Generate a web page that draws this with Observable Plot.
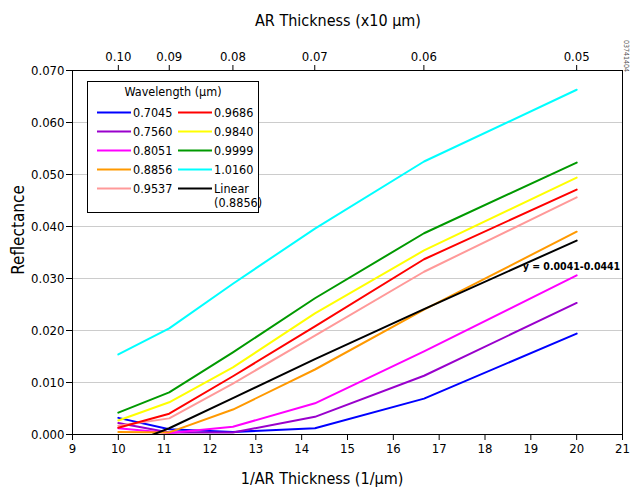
<!DOCTYPE html>
<html><head><meta charset="utf-8">
<script src="https://cdn.jsdelivr.net/npm/d3@7"></script>
<script src="https://cdn.jsdelivr.net/npm/@observablehq/plot@0.6"></script>
<style>body{margin:0;background:#fff} #chart{width:634px;height:493px} svg text{font-stretch:condensed}</style>
</head><body><div id="chart"></div>
<script>
const FONT = "'DejaVu Sans Condensed','DejaVu Sans',sans-serif";
// x positions (1/AR thickness, 1/µm)
const xValues = [10, 11.11, 12.5, 14.29, 16.67, 20];
const wavelengths = ["0.7045","0.7560","0.8051","0.8856","0.9537","0.9686","0.9840","0.9999","1.0160"];
const colors = ["#0000ff","#9900cc","#ff00ff","#ff9900","#ff9999","#ff0000","#ffff00","#009900","#00ffff"];
const r07045 = [0.0032, 0.0010, 0.0005, 0.0012, 0.0069, 0.0194];
const r07560 = [0.0022, 0.0004, 0.0004, 0.0034, 0.0113, 0.0253];
const r08051 = [0.0012, 0.0003, 0.0015, 0.0060, 0.0160, 0.0306];
const r08856 = [0.0005, 0.0004, 0.0048, 0.0125, 0.0240, 0.0390];
const r09537 = [0.0017, 0.0031, 0.0098, 0.0190, 0.0313, 0.0456];
const r09686 = [0.0013, 0.0040, 0.0112, 0.0208, 0.0337, 0.0471];
const r09840 = [0.0027, 0.0062, 0.0129, 0.0233, 0.0354, 0.0494];
const r09999 = [0.0042, 0.0081, 0.0158, 0.0262, 0.0387, 0.0523];
const r10160 = [0.0154, 0.0204, 0.0290, 0.0396, 0.0525, 0.0663];
const series = [r07045, r07560, r08051, r08856, r09537, r09686, r09840, r09999, r10160];
// linear fit line (0.8856)
const linearX = [10.7, 11.11, 12.5, 14.29, 16.67, 20];
const linearY = [-0.0002, 0.0012, 0.0070, 0.0145, 0.0241, 0.0373];
const fitLabel = "y = 0.0041-0.0441";
// ticks
const bottomTicks = [9,10,11,12,13,14,15,16,17,18,19,20,21];
const yTicks = [0,0.01,0.02,0.03,0.04,0.05,0.06,0.07];
const topTickValues = [0.10, 0.09, 0.08, 0.07, 0.06, 0.05];
const topTickLabels = ["0.10","0.09","0.08","0.07","0.06","0.05"];

const rows = [];
series.forEach((s, i) => s.forEach((v, j) => rows.push({x: xValues[j], y: v, w: wavelengths[i]})));
const linRows = linearX.map((x, i) => ({x, y: linearY[i]}));

const plot = Plot.plot({
  width: 634, height: 493,
  marginLeft: 72, marginRight: 12, marginTop: 70, marginBottom: 59,
  style: {fontFamily: FONT, fontSize: "13px", color: "#000", background: "#fff"},
  x: {domain: [9, 21]},
  y: {domain: [0, 0.07]},
  color: {domain: wavelengths, range: colors},
  marks: [
    Plot.gridY({ticks: yTicks, stroke: "#cccccc", strokeOpacity: 1, strokeWidth: 1}),
    Plot.line(rows, {x: "x", y: "y", z: "w", stroke: "w", strokeWidth: 2, clip: true}),
    Plot.line(linRows, {x: "x", y: "y", stroke: "#000", strokeWidth: 2, clip: true}),
    Plot.text([fitLabel], {x: 20.95, y: 0.0323, text: d => d, textAnchor: "end", fontWeight: "bold", fontSize: 10.5}),
    Plot.frame({stroke: "#000", strokeWidth: 1}),
    Plot.axisX({ticks: bottomTicks, tickFormat: d => d, tickSize: 6, tickPadding: 3, label: null, fontSize: 13}),
    Plot.axisY({ticks: yTicks, tickFormat: d3.format(".3f"), tickSize: 6, tickPadding: 2, label: null, fontSize: 13}),
    Plot.axisX({anchor: "top", ticks: topTickValues.map(v => 1 / v), tickFormat: (d, i) => topTickLabels[i], tickSize: 6, tickPadding: 4, label: null, fontSize: 13})
  ]
});
document.getElementById("chart").appendChild(plot);

const svg = d3.select(plot);
svg.append("text").attr("x", 338).attr("y", 26).attr("text-anchor", "middle")
  .attr("font-size", 16).attr("font-family", FONT).text("AR Thickness (x10 µm)");
svg.append("text").attr("x", 322).attr("y", 484).attr("text-anchor", "middle")
  .attr("font-size", 16).attr("font-family", FONT).text("1/AR Thickness (1/µm)");
svg.append("text").attr("transform", "translate(24,230) rotate(-90)").attr("text-anchor", "middle")
  .attr("font-size", 17).attr("font-family", FONT).text("Reflectance");
svg.append("text").attr("transform", "translate(624,40) rotate(90)").attr("text-anchor", "start")
  .attr("font-size", 7).attr("fill", "#555").attr("font-family", FONT).text("03741404");

// legend
const lg = svg.append("g").attr("font-family", FONT).attr("font-size", 12.5).attr("text-anchor", "start");
lg.append("rect").attr("x", 87.5).attr("y", 81.5).attr("width", 171).attr("height", 131)
  .attr("fill", "#fff").attr("stroke", "#000").attr("stroke-width", 1);
lg.append("text").attr("x", 173).attr("y", 96).attr("text-anchor", "middle").text("Wavelength (µm)");
const entries = wavelengths.map((w, i) => ({label: w, color: colors[i]}));
entries.push({label: "Linear", color: "#000", extra: "(0.8856)"});
entries.forEach((e, i) => {
  const col = i < 5 ? 0 : 1;
  const row = i % 5;
  const x0 = col ? 178 : 97;
  const y0 = 112.5 + row * 19;
  lg.append("line").attr("x1", x0).attr("x2", x0 + 34).attr("y1", y0).attr("y2", y0)
    .attr("stroke", e.color).attr("stroke-width", 2);
  lg.append("text").attr("x", x0 + 36).attr("y", y0 + 4.5).text(e.label);
  if (e.extra) lg.append("text").attr("x", x0 + 36).attr("y", y0 + 18.5).text(e.extra);
});
</script></body></html>
